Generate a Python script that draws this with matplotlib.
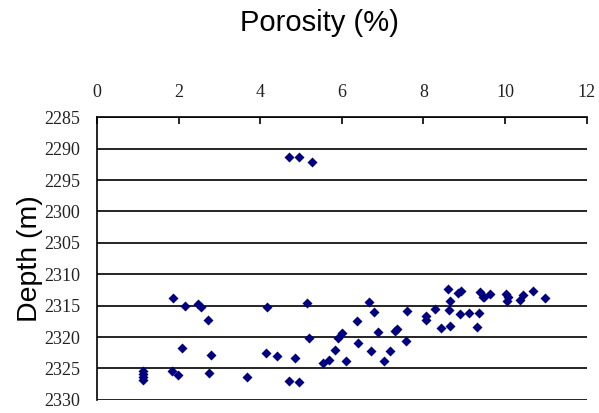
import matplotlib.pyplot as plt

# --- datos: porosidad (%) y profundidad (m) ---
porosity = [4.70, 4.94, 5.27,
            1.13, 1.13, 1.13, 1.13, 1.86, 2.16, 2.47, 2.55, 2.71, 2.07, 2.79,
            1.83, 1.98, 2.75, 3.68, 4.16, 4.13, 4.40, 4.70, 4.96, 4.85,
            5.15, 5.20, 5.53, 5.68, 5.83, 5.91, 6.01, 6.10,
            6.37, 6.40, 6.66, 6.78, 6.72, 6.88, 7.02, 7.19, 7.29, 7.36,
            7.57, 7.59, 8.06, 8.06, 8.27, 8.43, 8.60, 8.66, 8.63, 8.66,
            8.84, 8.91, 8.90, 9.12, 9.35, 9.32, 9.38, 9.45, 9.49, 9.63,
            10.01, 10.06, 10.04, 10.37, 10.43, 10.69, 10.97]
depth = [2291.4, 2291.4, 2292.1,
         2325.4, 2325.9, 2326.4, 2326.9, 2313.8, 2315.1, 2314.8, 2315.2, 2317.3, 2321.8, 2322.8,
         2325.4, 2326.1, 2325.8, 2326.4, 2315.2, 2322.6, 2323.0, 2327.0, 2327.2, 2323.4,
         2314.6, 2320.2, 2324.2, 2323.6, 2322.0, 2320.1, 2319.4, 2323.8,
         2317.4, 2321.0, 2314.4, 2316.0, 2322.2, 2319.2, 2323.8, 2322.2, 2319.1, 2318.8,
         2320.6, 2315.8, 2316.6, 2317.3, 2315.5, 2318.6, 2312.4, 2314.2, 2315.7, 2318.3,
         2313.0, 2312.7, 2316.4, 2316.2, 2316.2, 2318.4, 2312.8, 2313.6, 2313.7, 2313.2,
         2313.2, 2313.6, 2314.2, 2314.1, 2313.3, 2312.6, 2313.8]

x_ticks = [0, 2, 4, 6, 8, 10, 12]
y_ticks = [2285, 2290, 2295, 2300, 2305, 2310, 2315, 2320, 2325, 2330]

fig = plt.figure(figsize=(5.99, 4.13), dpi=100)
ax = fig.add_axes([0.162, 0.032, 0.8175, 0.684])

ax.scatter(porosity, depth, marker='D', s=26, color='#000080', zorder=3, linewidths=0)

ax.set_xlim(0, 12)
ax.set_ylim(2330, 2285)
ax.set_xticks(x_ticks)
ax.set_yticks(y_ticks)
ax.xaxis.tick_top()
ax.xaxis.set_label_position('top')
ax.tick_params(axis='x', direction='in', length=5, width=1.2, pad=12, labelsize=13)
ax.tick_params(axis='y', length=0, pad=12, labelsize=13)
for lbl in ax.get_xticklabels() + ax.get_yticklabels():
    lbl.set_family('Liberation Serif')
    lbl.set_color('#222222')

ax.grid(axis='y', color='black', linewidth=1.2)
ax.set_axisbelow(True)
for s in ['right', 'bottom']:
    ax.spines[s].set_visible(False)
for s in ['top', 'left']:
    ax.spines[s].set_linewidth(1.2)

fig.text(0.534, 0.945, 'Porosity (%)', ha='center', va='center', fontsize=21,
         family='Liberation Sans')
ax.set_ylabel('Depth (m)', fontsize=20.5, family='Liberation Sans', labelpad=1)

plt.savefig('out.png', dpi=100)
